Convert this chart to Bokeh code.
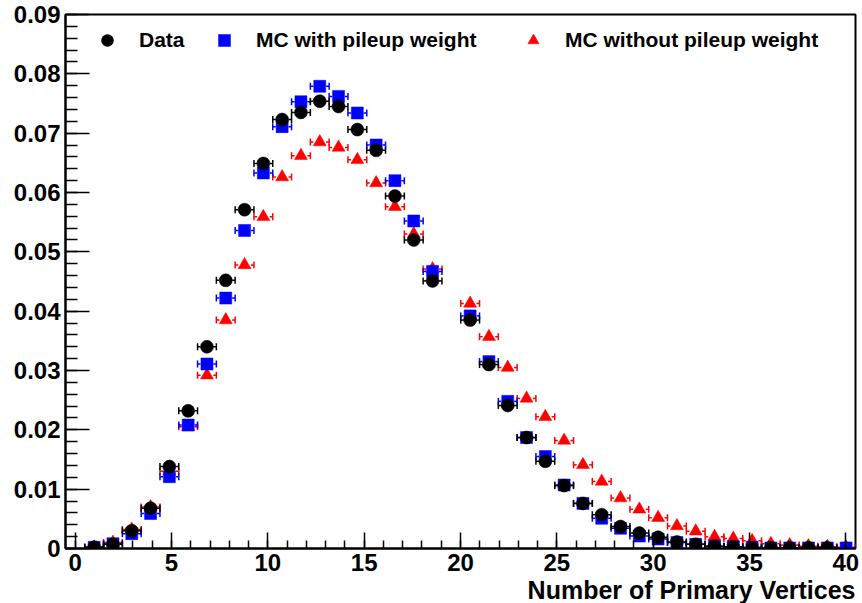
import numpy as np
from bokeh.plotting import figure
from bokeh.models import (ColumnDataSource, SingleIntervalTicker, NumeralTickFormatter,
                          Legend, LegendItem, Title, Range1d)
from bokeh.embed import file_html
from bokeh.resources import INLINE

# Histogram binning (41 bins over [0.5, 40.5]); one bin is empty in all three
bin_lo, bin_hi, n_bins = 0.5, 40.5, 41

data_vals = [0.0002, 0.0007, 0.0030, 0.0068, 0.0138, 0.0232, 0.0340, 0.0452, 0.0571, 0.0649,
             0.0723, 0.0735, 0.0754, 0.0745, 0.0706, 0.0671, 0.0594, 0.0520, 0.0451, None,
             0.0385, 0.0310, 0.0241, 0.0187, 0.0147, 0.0106, 0.0076, 0.0057, 0.0037, 0.0026,
             0.0019, 0.0011, 0.0007, 0.0004, 0.0003, 0.0001, 0.0001, 0.0001, 0.0001, 0.0001, None]

mc_pu_vals = [0.0002, 0.0008, 0.0025, 0.0059, 0.0121, 0.0208, 0.0311, 0.0422, 0.0536, 0.0633,
              0.0711, 0.0753, 0.0779, 0.0762, 0.0734, 0.0680, 0.0620, 0.0552, 0.0467, None,
              0.0392, 0.0315, 0.0248, 0.0187, 0.0155, 0.0107, 0.0076, 0.0051, 0.0034, 0.0021,
              0.0016, 0.0010, 0.0007, 0.0004, 0.0003, 0.0002, 0.0001, 0.0001, 0.0001, 0.0001, 0.0001]

mc_nopu_vals = [0.0002, 0.0010, 0.0032, 0.0070, 0.0130, 0.0205, 0.0292, 0.0385, 0.0478, 0.0559,
                0.0626, 0.0662, 0.0685, 0.0676, 0.0655, 0.0616, 0.0576, 0.0530, 0.0471, None,
                0.0413, 0.0357, 0.0305, 0.0253, 0.0222, 0.0182, 0.0141, 0.0113, 0.0085, 0.0066,
                0.0052, 0.0038, 0.0029, 0.0020, 0.0017, 0.0013, 0.0008, 0.0006, 0.0004, 0.0003, 0.0002]

labels = ["Data", "MC with pileup weight", "MC without pileup weight"]
x_title = "Number of Primary Vertices"

edges = np.linspace(bin_lo, bin_hi, n_bins + 1)
centers = 0.5 * (edges[:-1] + edges[1:])
half_w = 0.5 * (bin_hi - bin_lo) / n_bins
gap = 0.33

FONT = "Liberation Sans"

p = figure(width=862, height=603, x_range=Range1d(-0.5, 40.5), y_range=Range1d(0, 0.09),
           output_backend="svg", toolbar_location=None,
           min_border_left=65, min_border_right=7, min_border_top=14, min_border_bottom=55)
p.xgrid.visible = False
p.ygrid.visible = False
p.outline_line_color = "black"
p.outline_line_width = 2
p.background_fill_color = "white"
p.border_fill_color = "white"


def make_src(vals):
    xs, ys = [], []
    for xc, v in zip(centers, vals):
        if v is not None:
            xs.append(xc)
            ys.append(v)
    xs = np.array(xs)
    ys = np.array(ys)
    return ColumnDataSource(dict(x=xs, y=ys, xl0=xs - half_w, xl1=xs - gap,
                                 xr0=xs + gap, xr1=xs + half_w))


def draw(vals, color, marker, size):
    src = make_src(vals)
    p.segment(x0="xl0", y0="y", x1="xl1", y1="y", source=src, line_color=color, line_width=1.5)
    p.segment(x0="xr0", y0="y", x1="xr1", y1="y", source=src, line_color=color, line_width=1.5)
    p.scatter(x="xl0", y="y", source=src, marker="dash", angle=np.pi / 2, size=7,
              line_color=color, line_width=1.5)
    p.scatter(x="xr1", y="y", source=src, marker="dash", angle=np.pi / 2, size=7,
              line_color=color, line_width=1.5)
    return p.scatter(x="x", y="y", source=src, marker=marker, size=size,
                     fill_color=color, line_color=color, line_width=0.5)


r_red = draw(mc_nopu_vals, "#ff0000", "triangle", 13)
r_blue = draw(mc_pu_vals, "#0000ff", "square", 12)
r_black = draw(data_vals, "#000000", "circle", 13)

for ax, interval, maj, mnr in ((p.xaxis[0], 5, 16, 8), (p.yaxis[0], 0.01, 24, 12)):
    ax.ticker = SingleIntervalTicker(interval=interval, num_minor_ticks=5)
    ax.major_tick_in = maj
    ax.major_tick_out = 0
    ax.minor_tick_in = mnr
    ax.minor_tick_out = 0
    ax.axis_line_width = 2
    ax.major_tick_line_width = 1.5
    ax.minor_tick_line_width = 1.5
    ax.major_tick_line_color = "black"
    ax.minor_tick_line_color = "black"
    ax.axis_line_color = "black"
    ax.major_label_text_font = FONT
    ax.major_label_text_font_style = "bold"
    ax.major_label_text_font_size = "24px"
    ax.major_label_text_color = "black"
    ax.major_label_standoff = 5

p.yaxis[0].formatter = NumeralTickFormatter(format="0.[00]")

p.add_layout(Title(text=x_title, align="right", text_font=FONT, text_font_style="bold",
                   text_font_size="25px", text_color="black", standoff=0, offset=0),
             "below")

leg_specs = [(r_black, labels[0], 27, 493.5, 30, 17),
             (r_blue, labels[1], 144, 493.5, 30, 17),
             (r_red, labels[2], 454, 494.5, 28, 18)]
for rend, lab, lx, ly, gsz, stand in leg_specs:
    leg = Legend(items=[LegendItem(label=lab, renderers=[rend])], location=(lx, ly),
                 orientation="horizontal", padding=0, margin=0, spacing=0,
                 glyph_width=gsz, glyph_height=gsz, label_standoff=stand,
                 label_text_font=FONT, label_text_font_style="bold",
                 label_text_font_size="21px", label_text_color="black",
                 border_line_alpha=0, background_fill_alpha=0)
    p.add_layout(leg)

open("out.html", "w").write(file_html(p, INLINE))
